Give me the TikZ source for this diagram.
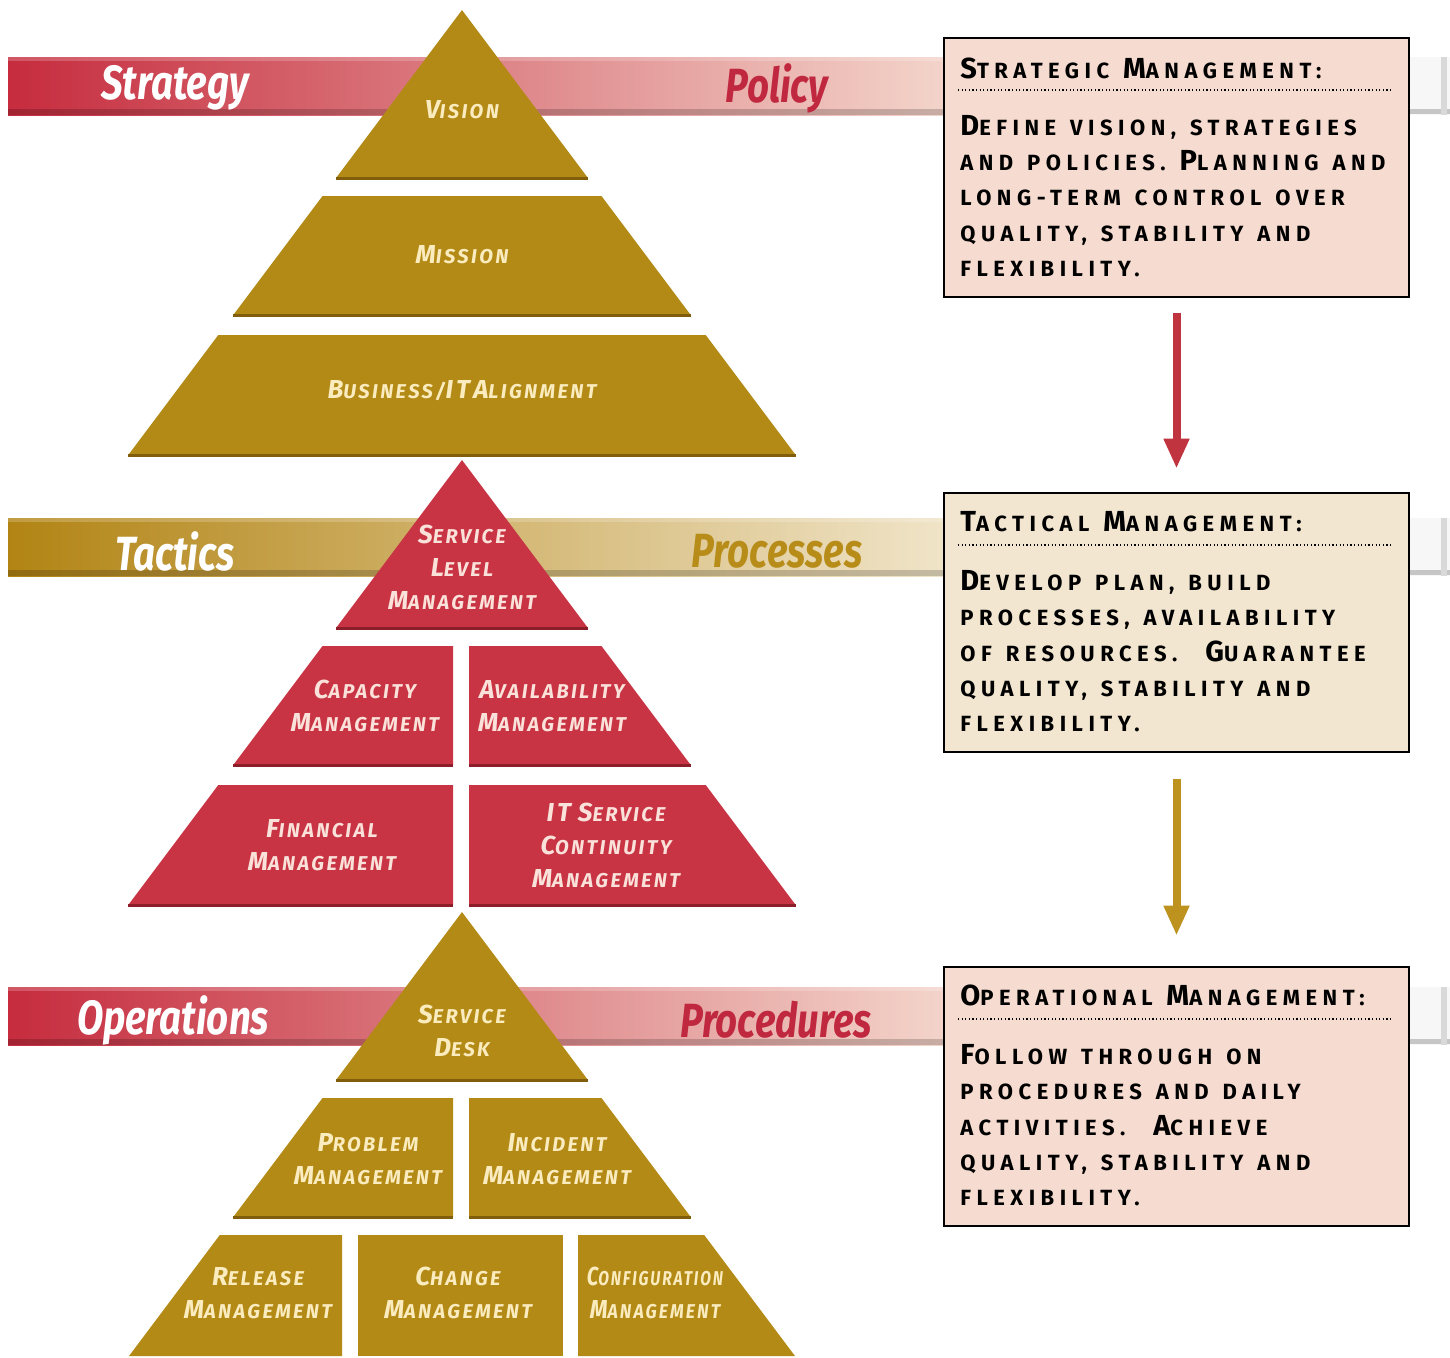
\documentclass[tikz,border=0pt]{standalone}
\usepackage{fontspec}
\usepackage{graphicx}
\setmainfont{Fira Sans}
\newfontfamily\boxfont[LetterSpace=25,WordSpace=1.3]{Fira Sans}
\newfontfamily\pyrfont[LetterSpace=12]{Fira Sans}
\usetikzlibrary{arrows.meta}
\definecolor{pgold}{RGB}{180,138,22}
\definecolor{pgoldD}{RGB}{128,94,12}
\definecolor{pred}{RGB}{200,52,68}
\definecolor{predD}{RGB}{140,30,42}
\definecolor{goldtxt}{RGB}{250,236,190}
\definecolor{redtxt}{RGB}{250,226,218}
\definecolor{barRa}{RGB}{198,44,62}
\definecolor{barRb}{RGB}{226,136,124}
\definecolor{barRc}{RGB}{243,212,202}
\definecolor{barGa}{RGB}{178,132,20}
\definecolor{barGb}{RGB}{212,178,106}
\definecolor{barGc}{RGB}{240,228,200}
\definecolor{boxpink}{RGB}{246,220,208}
\definecolor{boxbeige}{RGB}{242,230,208}
\definecolor{arrR}{RGB}{192,52,64}
\definecolor{arrG}{RGB}{190,146,30}
\definecolor{txtR}{RGB}{192,40,64}
\definecolor{txtG}{RGB}{184,140,24}
\newcommand\BC[1]{{\fontsize{14.5}{17.5}\selectfont #1}}
\newcommand\PL[2]{{\fontsize{13}{16.5}\selectfont #1}#2}
\begin{document}
\begin{tikzpicture}[x=0.5pt,y=-0.5pt,
  goldp/.style={fill=pgold},
  redp/.style={fill=pred},
  goldedge/.style={draw=pgoldD,line width=1.5pt},
  rededge/.style={draw=predD,line width=1.5pt},
  lab/.style={align=center,inner sep=0pt,font=\pyrfont\bfseries\itshape\fontsize{10}{16.5}\selectfont},
  goldlab/.style={lab,text=goldtxt},
  redlab/.style={lab,text=redtxt},
  bartxt/.style={inner sep=0pt,font=\bfseries\itshape\fontsize{24}{24}\selectfont},
  infobox/.style={draw=black,line width=1.4pt,minimum width=232.5pt,minimum height=129.5pt,inner sep=0pt},
  boxtxt/.style={anchor=base west,inner sep=0pt,font=\boxfont\bfseries\fontsize{11}{17.5}\selectfont},
  sepline/.style={line width=0.6pt,dash pattern=on 0.6pt off 1.2pt},
  bigarrow/.style={line width=4pt,-{Triangle[width=12pt,length=15pt]}}
]
\useasboundingbox (0,0) rectangle (1450,1357);
\fill[white] (0,0) rectangle (1450,1357);

% ---------- bars ----------
\fill[left color=barRa,middle color=barRb,right color=barRc] (8,57) rectangle (944,115);
\fill[black,opacity=0.18] (8,109) rectangle (944,115);
\fill[white,opacity=0.2] (8,57) rectangle (944,61);
\fill[left color=barGa,middle color=barGb,right color=barGc] (8,518) rectangle (944,576);
\fill[black,opacity=0.18] (8,570) rectangle (944,576);
\fill[white,opacity=0.2] (8,518) rectangle (944,522);
\fill[left color=barRa,middle color=barRb,right color=barRc] (8,987) rectangle (944,1045);
\fill[black,opacity=0.18] (8,1039) rectangle (944,1045);
\fill[white,opacity=0.2] (8,987) rectangle (944,991);
% stubs right of boxes
\foreach \yt/\yb in {57/115,518/576,987/1045}{
  \fill[gray!6] (1409,\yt) rectangle (1450,\yb);
  \fill[gray!45] (1409,\yb-6) rectangle (1450,\yb-1);
  \fill[gray!30] (1441,\yt) rectangle (1447,\yb);
}

% ---------- bar labels ----------
\node[bartxt,text=white] (strategy) at (175,88) {\scalebox{0.8}[1]{Strategy}};
\node[bartxt,text=txtR] (policy) at (777,88) {\scalebox{0.8}[1]{Policy}};
\node[bartxt,text=white] (tactics) at (175,551) {\scalebox{0.8}[1]{Tactics}};
\node[bartxt,text=txtG] (processes) at (777,551) {\scalebox{0.8}[1]{Processes}};
\node[bartxt,text=white] (operations) at (173,1020) {\scalebox{0.8}[1]{Operations}};
\node[bartxt,text=txtR] (procedures) at (776,1020) {\scalebox{0.8}[1]{Procedures}};

% ---------- top pyramid (gold) ----------
\fill[goldp] (462,10) -- (588,178) -- (336,178) -- cycle;
\draw[goldedge] (336,178) -- (588,178);
\fill[goldp] (322.5,196) -- (601.5,196) -- (690.75,315) -- (233.25,315) -- cycle;
\draw[goldedge] (233.25,315) -- (690.75,315);
\fill[goldp] (218.25,335) -- (705.75,335) -- (795.75,455) -- (128.25,455) -- cycle;
\draw[goldedge] (128.25,455) -- (795.75,455);
\node[goldlab] (vision) at (462,110) {\PL{V}{ISION}};
\node[goldlab] (mission) at (462,255) {\PL{M}{ISSION}};
\node[goldlab] (bitalign) at (462,391) {\PL{B}{USINESS}/\PL{IT}{}\,\PL{A}{LIGNMENT}};

% ---------- middle pyramid (red) ----------
\fill[redp] (462,460) -- (588,628) -- (336,628) -- cycle;
\draw[rededge] (336,628) -- (588,628);
\fill[redp] (322.5,646) -- (453,646) -- (453,765) -- (233.25,765) -- cycle;
\fill[redp] (469,646) -- (601.5,646) -- (690.75,765) -- (469,765) -- cycle;
\draw[rededge] (233.25,765) -- (453,765) (469,765) -- (690.75,765);
\fill[redp] (218.25,785) -- (453,785) -- (453,905) -- (128.25,905) -- cycle;
\fill[redp] (469,785) -- (705.75,785) -- (795.75,905) -- (469,905) -- cycle;
\draw[rededge] (128.25,905) -- (453,905) (469,905) -- (795.75,905);
\node[redlab] (slm) at (462,567) {\PL{S}{ERVICE}\\\PL{L}{EVEL}\\\PL{M}{ANAGEMENT}};
\node[redlab] (capacity) at (365,706) {\PL{C}{APACITY}\\\PL{M}{ANAGEMENT}};
\node[redlab] (availability) at (552,706) {\PL{A}{VAILABILITY}\\\PL{M}{ANAGEMENT}};
\node[redlab] (financial) at (322,845) {\PL{F}{INANCIAL}\\\PL{M}{ANAGEMENT}};
\node[redlab] (itscm) at (606,845) {\PL{IT}{}\ \PL{S}{ERVICE}\\\PL{C}{ONTINUITY}\\\PL{M}{ANAGEMENT}};

% ---------- bottom pyramid (gold) ----------
\fill[goldp] (462,912) -- (588,1080) -- (336,1080) -- cycle;
\draw[goldedge] (336,1080) -- (588,1080);
\fill[goldp] (322.5,1098) -- (453,1098) -- (453,1217) -- (233.25,1217) -- cycle;
\fill[goldp] (469,1098) -- (601.5,1098) -- (690.75,1217) -- (469,1217) -- cycle;
\draw[goldedge] (233.25,1217) -- (453,1217) (469,1217) -- (690.75,1217);
\fill[goldp] (219.75,1235) -- (342,1235) -- (342,1356) -- (129,1356) -- cycle;
\fill[goldp] (358,1235) -- (563,1235) -- (563,1356) -- (358,1356) -- cycle;
\fill[goldp] (578,1235) -- (704.25,1235) -- (795,1356) -- (578,1356) -- cycle;
\node[goldlab] (sdesk) at (462,1031) {\PL{S}{ERVICE}\\\PL{D}{ESK}};
\node[goldlab] (problem) at (368,1159) {\PL{P}{ROBLEM}\\\PL{M}{ANAGEMENT}};
\node[goldlab] (incident) at (557,1159) {\PL{I}{NCIDENT}\\\PL{M}{ANAGEMENT}};
\node[goldlab] (release) at (258,1293) {\PL{R}{ELEASE}\\\PL{M}{ANAGEMENT}};
\node[goldlab] (change) at (458,1293) {\PL{C}{HANGE}\\\PL{M}{ANAGEMENT}};
\node[goldlab] (config) at (655,1293) {\scalebox{0.78}[1]{\PL{C}{ONFIGURATION}}\\\scalebox{0.88}[1]{\PL{M}{ANAGEMENT}}};

% ---------- info boxes ----------
\node[infobox,fill=boxpink] (box1) at (1176.5,167.5) {};
\node[infobox,fill=boxbeige] (box2) at (1176.5,622.5) {};
\node[infobox,fill=boxpink] (box3) at (1176.5,1096.5) {};

\draw[sepline] (958,90) -- (1393,90);
\draw[sepline] (958,545) -- (1393,545);
\draw[sepline] (958,1019) -- (1393,1019);

\node[boxtxt] (h1) at (960,78) {\BC{S}TRATEGIC \BC{M}ANAGEMENT:};
\node[boxtxt] (a1) at (960,135) {\BC{D}EFINE VISION, STRATEGIES};
\node[boxtxt] (a2) at (960,170) {AND POLICIES. \BC{P}LANNING AND};
\node[boxtxt] (a3) at (960,205) {LONG-TERM CONTROL OVER};
\node[boxtxt] (a4) at (960,241) {QUALITY, STABILITY AND};
\node[boxtxt] (a5) at (960,276) {FLEXIBILITY.};

\node[boxtxt] (h2) at (960,531) {\BC{T}ACTICAL \BC{M}ANAGEMENT:};
\node[boxtxt] (b1) at (960,590) {\BC{D}EVELOP PLAN, BUILD};
\node[boxtxt] (b2) at (960,625) {PROCESSES, AVAILABILITY};
\node[boxtxt] (b3) at (960,661) {OF RESOURCES.\ \ \BC{G}UARANTEE};
\node[boxtxt] (b4) at (960,696) {QUALITY, STABILITY AND};
\node[boxtxt] (b5) at (960,731) {FLEXIBILITY.};

\node[boxtxt] (h3) at (960,1005) {\BC{O}PERATIONAL \BC{M}ANAGEMENT:};
\node[boxtxt] (c1) at (960,1064) {\BC{F}OLLOW THROUGH ON};
\node[boxtxt] (c2) at (960,1099) {PROCEDURES AND DAILY};
\node[boxtxt] (c3) at (960,1135) {ACTIVITIES.\ \ \BC{A}CHIEVE};
\node[boxtxt] (c4) at (960,1170) {QUALITY, STABILITY AND};
\node[boxtxt] (c5) at (960,1205) {FLEXIBILITY.};

% ---------- arrows ----------
\draw[bigarrow,draw=arrR,color=arrR] ([yshift=-7.5pt]box1.south) -- ([yshift=11.5pt]box2.north);
\draw[bigarrow,draw=arrG,color=arrG] ([yshift=-13pt]box2.south) -- ([yshift=15pt]box3.north);
\end{tikzpicture}
\end{document}
